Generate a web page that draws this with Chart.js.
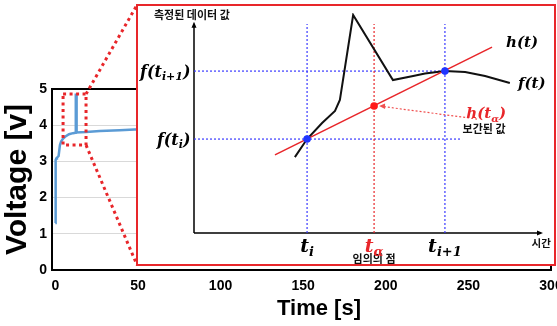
<!DOCTYPE html>
<html>
<head>
<meta charset="utf-8">
<script src="https://cdn.jsdelivr.net/npm/chart.js@4.4.1/dist/chart.umd.min.js"></script>
<style>
    html, body { margin: 0; padding: 0; background: #fff; }
    #wrap { position: relative; width: 557px; height: 326px; overflow: hidden; }
    #mainChart { position: absolute; left: 0; top: 0; }
    #insetChart { position: absolute; left: 136px; top: 4px; }
</style>
</head>
<body>
<div id="wrap">
    <canvas id="mainChart" width="557" height="326"></canvas>
    <canvas id="insetChart" width="420" height="262"></canvas>
</div>
<script>
// Measured voltage curve (time in s, voltage in V)
const timeS    = [0, 0.2, 0.6, 1, 2, 2.8, 3.5, 4.7, 5.9, 8.3, 10.7, 12.3, 12.4, 12.8, 12.9, 18.6, 27, 39, 48, 60, 100, 150, 200, 250, 300];
const voltageV = [1.3, 3.04, 3.08, 3.1, 3.15, 3.45, 3.55, 3.63, 3.68, 3.75, 3.78, 3.79, 4.84, 4.84, 3.8, 3.81, 3.84, 3.86, 3.88, 3.89, 3.93, 3.96, 3.98, 4.0, 4.01];
const xTicks = [0, 50, 100, 150, 200, 250, 300];
const yTicks = [0, 1, 2, 3, 4, 5];

// Zoomed region marked on the main chart
const zoomT = [4.7, 18.6];
const zoomV = [3.45, 4.86];

// Inset: schematic of the interpolation (both axes 0..100)
const fCurveT = [28.9, 32.4, 36.7, 40.4, 41.8, 45.6, 57.0, 62.8, 66.2, 71.9, 77.7, 83.4, 90.5];
const fCurveV = [34.5, 42.7, 50.0, 55.5, 60.5, 99.1, 69.5, 71.4, 72.5, 73.6, 73.2, 71.4, 68.2];
const hLineT = [23.2, 85.4];
const hLineV = [35.5, 84.5];
const tI = 32.4, tAlpha = 51.6, tI1 = 71.9;
const fTi = 42.7, fTi1 = 73.6, hTalpha = 57.7;
const guideTop = 95;

const RED = '#e8262a';
const BLUE_DOT = '#3a3aff';

const pts = (xs, ys) => xs.map((x, i) => ({ x: x, y: ys[i] }));

// ---------- main chart ----------
const mainPlugin = {
    id: 'mainDeco',
    beforeDatasetsDraw(chart) {
        const { ctx, chartArea: a } = chart;
        ctx.save();
        ctx.strokeStyle = '#000';
        ctx.lineWidth = 2;
        ctx.strokeRect(a.left, a.top, a.right - a.left, a.bottom - a.top);
        ctx.restore();
    },
    afterDatasetsDraw(chart) {
        const { ctx, scales: { x, y } } = chart;
        const l = x.getPixelForValue(zoomT[0]), r = x.getPixelForValue(zoomT[1]);
        const t = y.getPixelForValue(zoomV[1]), b = y.getPixelForValue(zoomV[0]);
        const inset = document.getElementById('insetChart');
        const ix = inset.offsetLeft + 1, iy = inset.offsetTop + 1, ib = inset.offsetTop + inset.height - 1;
        ctx.save();
        ctx.strokeStyle = RED;
        ctx.lineWidth = 3;
        ctx.setLineDash([3, 3.5]);
        ctx.strokeRect(l, t, r - l, b - t);
        ctx.beginPath();
        ctx.moveTo(r, t); ctx.lineTo(ix, iy);
        ctx.moveTo(r, b); ctx.lineTo(ix, ib);
        ctx.stroke();
        ctx.restore();
        // x axis title
        ctx.save();
        ctx.fillStyle = '#000';
        ctx.font = 'bold 22px "Liberation Sans"';
        ctx.textAlign = 'center';
        ctx.textBaseline = 'middle';
        ctx.fillText('Time [s]', 319, 309);
        ctx.restore();
    }
};

const tickFont = { family: "'Liberation Sans', sans-serif", size: 14, weight: 'bold' };

new Chart(document.getElementById('mainChart').getContext('2d'), {
    type: 'line',
    data: {
        datasets: [{
            data: pts(timeS, voltageV),
            borderColor: '#5b9bd5',
            borderWidth: 2.5,
            pointRadius: 0,
            tension: 0
        }]
    },
    options: {
        responsive: false,
        animation: false,
        layout: { padding: { left: 0, top: 89, right: 6, bottom: 0 } },
        plugins: { legend: { display: false }, tooltip: { enabled: false } },
        scales: {
            x: {
                type: 'linear',
                min: -2,
                max: 300,
                afterBuildTicks: (s) => { s.ticks = xTicks.map(v => ({ value: v })); },
                afterFit: (s) => { s.height = 56; s.paddingLeft = 0; s.paddingRight = 0; },
                ticks: { color: '#000', font: tickFont, padding: 8, maxRotation: 0, autoSkip: false },
                grid: { display: false, drawTicks: false },
                border: { display: true, color: '#000', width: 2 }
            },
            y: {
                min: 0,
                max: 5,
                afterBuildTicks: (s) => { s.ticks = yTicks.map(v => ({ value: v })); },
                afterFit: (s) => { s.width = 52; },
                ticks: { color: '#000', font: tickFont, padding: 5 },
                grid: {
                    drawTicks: false,
                    color: (c) => (c.tick && (c.tick.value === 0 || c.tick.value === 5)) ? 'rgba(0,0,0,0)' : '#d9d9d9'
                },
                border: { display: true, color: '#000', width: 2 },
                title: {
                    display: true,
                    text: 'Voltage [v]',
                    color: '#000',
                    font: { family: "'Liberation Sans', sans-serif", size: 30, weight: 'bold' },
                    padding: { top: 0, bottom: 0 }
                }
            }
        }
    },
    plugins: [mainPlugin]
});

// ---------- inset chart ----------
function drawMath(ctx, parts, x, y, align, color, size) {
    const big = 'bold italic ' + size + 'px "DejaVu Serif"';
    const small = 'bold italic ' + Math.round(size * 0.66) + 'px "DejaVu Serif"';
    let w = 0;
    parts.forEach(p => { ctx.font = p[1] ? small : big; w += ctx.measureText(p[0]).width; });
    let cx = align === 'right' ? x - w : align === 'center' ? x - w / 2 : x;
    ctx.fillStyle = color;
    ctx.textAlign = 'left';
    ctx.textBaseline = 'alphabetic';
    const base = y + size * 0.35;
    parts.forEach(p => {
        ctx.font = p[1] ? small : big;
        ctx.fillText(p[0], cx, p[1] ? base + size * 0.22 : base);
        cx += ctx.measureText(p[0]).width;
    });
}

function drawKo(ctx, text, x, y, align, size) {
    ctx.font = 'bold ' + size + 'px "Noto Sans CJK KR"';
    ctx.fillStyle = '#111';
    ctx.textAlign = align;
    ctx.textBaseline = 'middle';
    ctx.fillText(text, x, y);
}

const insetPlugin = {
    id: 'insetDeco',
    beforeDraw(chart) {
        const { ctx, width, height } = chart;
        ctx.save();
        ctx.fillStyle = '#fff';
        ctx.fillRect(0, 0, width, height);
        ctx.restore();
    },
    beforeDatasetsDraw(chart) {
        const { ctx, scales: { x, y } } = chart;
        const x0 = x.getPixelForValue(0), y0 = y.getPixelForValue(0);
        const yTop = y.getPixelForValue(96), xEnd = x.getPixelForValue(100);
        ctx.save();
        ctx.strokeStyle = '#000';
        ctx.fillStyle = '#000';
        ctx.lineWidth = 1.5;
        ctx.beginPath();
        ctx.moveTo(x0, y0); ctx.lineTo(x0, yTop + 2);
        ctx.moveTo(x0, y0); ctx.lineTo(xEnd - 2, y0);
        ctx.stroke();
        ctx.beginPath();
        ctx.moveTo(x0, yTop); ctx.lineTo(x0 - 2.5, yTop + 6); ctx.lineTo(x0 + 2.5, yTop + 6); ctx.closePath();
        ctx.moveTo(xEnd, y0); ctx.lineTo(xEnd - 6, y0 - 2.5); ctx.lineTo(xEnd - 6, y0 + 2.5); ctx.closePath();
        ctx.fill();
        ctx.restore();
    },
    afterDraw(chart) {
        const { ctx, scales: { x, y } } = chart;
        const px = v => x.getPixelForValue(v), py = v => y.getPixelForValue(v);
        ctx.save();
        // pointer from h(t_alpha) label to the interpolated point
        const ax0 = px(81.1), ay0 = py(51.8), ax1 = px(tAlpha) + 5, ay1 = py(hTalpha);
        ctx.strokeStyle = '#f05050';
        ctx.fillStyle = '#f05050';
        ctx.lineWidth = 1.2;
        ctx.setLineDash([2, 2]);
        ctx.beginPath(); ctx.moveTo(ax0, ay0); ctx.lineTo(ax1 + 4, ay1 + 0.5); ctx.stroke();
        ctx.setLineDash([]);
        ctx.beginPath();
        ctx.moveTo(ax1, ay1); ctx.lineTo(ax1 + 6, ay1 - 2.5); ctx.lineTo(ax1 + 6, ay1 + 3); ctx.closePath(); ctx.fill();

        // axis captions
        drawKo(ctx, '측정된 데이터 값', px(-0.6), py(99), 'center', 11);
        drawKo(ctx, '시간', px(99.5), py(-4.5), 'center', 10.5);
        drawKo(ctx, '임의의 점', px(tAlpha), py(-11.8), 'center', 11);
        drawKo(ctx, '보간된 값', px(83.1), py(47.3), 'center', 11);

        // math labels
        drawMath(ctx, [['f(t', 0], ['i+1', 1], [')', 0]], px(-1.0), py(fTi1), 'right', '#000', 16);
        drawMath(ctx, [['f(t', 0], ['i', 1], [')', 0]], px(-1.0), py(fTi), 'right', '#000', 16);
        drawMath(ctx, [['t', 0], ['i', 1]], px(tI), py(-5.5), 'center', '#000', 19);
        drawMath(ctx, [['t', 0], ['α', 1]], px(tAlpha), py(-5.5), 'center', RED, 19);
        drawMath(ctx, [['t', 0], ['i+1', 1]], px(tI1), py(-5.5), 'center', '#000', 19);
        drawMath(ctx, [['h(t)', 0]], px(94), py(86.8), 'center', '#000', 15);
        drawMath(ctx, [['f(t)', 0]], px(96.8), py(68.2), 'center', '#000', 15);
        drawMath(ctx, [['h(t', 0], ['α', 1], [')', 0]], px(83.7), py(54.5), 'center', RED, 15);

        // red frame
        ctx.strokeStyle = RED;
        ctx.lineWidth = 2;
        ctx.strokeRect(1, 1, chart.width - 2, chart.height - 2);
        ctx.restore();
    }
};

const guide = (data, color) => ({
    data: data,
    borderColor: color,
    borderWidth: 1.2,
    borderDash: [2, 2],
    pointRadius: 0,
    order: 3
});

new Chart(document.getElementById('insetChart').getContext('2d'), {
    type: 'line',
    data: {
        datasets: [
            {
                data: [{ x: tI, y: fTi }, { x: tI1, y: fTi1 }],
                showLine: false,
                pointRadius: 3.8,
                pointBackgroundColor: '#1f35ff',
                pointBorderWidth: 0,
                order: 0
            },
            {
                data: [{ x: tAlpha, y: hTalpha }],
                showLine: false,
                pointRadius: 3.8,
                pointBackgroundColor: '#ff1a1a',
                pointBorderWidth: 0,
                order: 0
            },
            {
                data: pts(hLineT, hLineV),
                borderColor: RED,
                borderWidth: 1.6,
                pointRadius: 0,
                order: 1
            },
            {
                data: pts(fCurveT, fCurveV),
                borderColor: '#111',
                borderWidth: 2,
                pointRadius: 0,
                tension: 0,
                order: 2
            },
            guide([{ x: tI, y: 0 }, { x: tI, y: guideTop }], BLUE_DOT),
            guide([{ x: tI1, y: 0 }, { x: tI1, y: guideTop }], BLUE_DOT),
            guide([{ x: tAlpha, y: 0 }, { x: tAlpha, y: guideTop }], RED),
            guide([{ x: 0, y: fTi1 }, { x: tI1, y: fTi1 }], BLUE_DOT),
            guide([{ x: 0, y: fTi }, { x: 76.8, y: fTi }], BLUE_DOT)
        ]
    },
    options: {
        responsive: false,
        animation: false,
        layout: { padding: { left: 58, right: 13, top: 9, bottom: 33 } },
        plugins: { legend: { display: false }, tooltip: { enabled: false } },
        scales: {
            x: { type: 'linear', min: 0, max: 100, display: false },
            y: { min: 0, max: 100, display: false }
        }
    },
    plugins: [insetPlugin]
});
</script>
</body>
</html>
